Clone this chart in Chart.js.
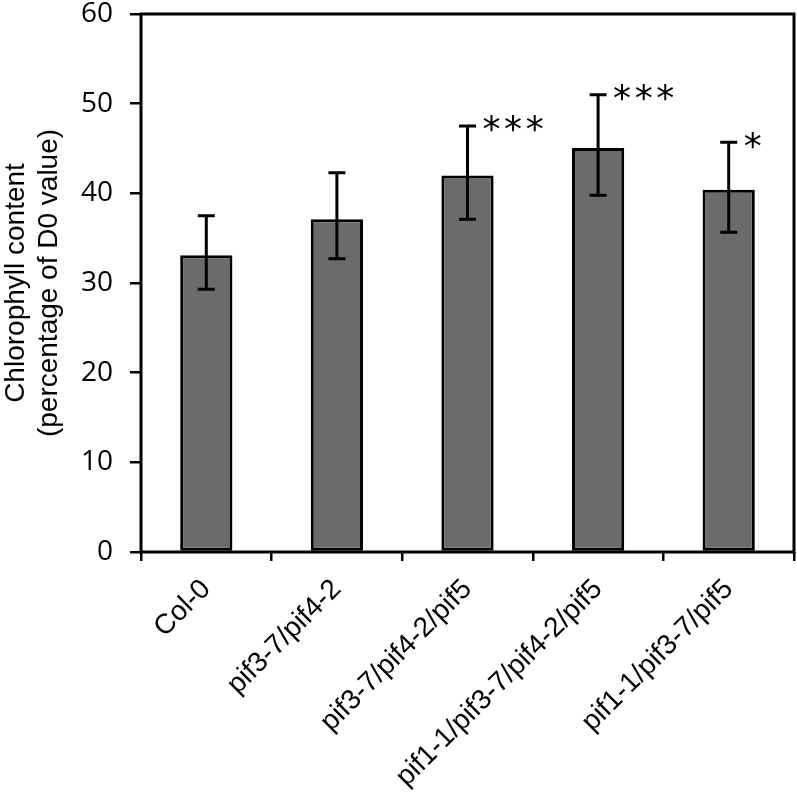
<!DOCTYPE html>
<html>
<head>
<meta charset="utf-8">
<script src="https://cdn.jsdelivr.net/npm/chart.js@4.4.0/dist/chart.umd.min.js"></script>
<style>
  html, body { margin: 0; padding: 0; background: #fff; }
  #wrap { width: 797px; height: 804px; }
</style>
</head>
<body>
<div id="wrap"><canvas id="chlChart"></canvas></div>
<script>
// values
var genotypes = ['Col-0', 'pif3-7/pif4-2', 'pif3-7/pif4-2/pif5', 'pif1-1/pif3-7/pif4-2/pif5', 'pif1-1/pif3-7/pif5'];
var chlValues = [33.1, 37.1, 42.0, 45.05, 40.4];
var errUp = [4.4, 5.2, 5.5, 5.95, 5.3];
var errDown = [3.8, 4.4, 4.9, 5.25, 4.75];
var sigMarks = ['', '', '***', '***', '*'];
var yMin = 0, yMax = 60, yStep = 10;

// error bars + significance stars, positions come from the scales
const errorBars = {
  id: 'errorBars',
  afterDatasetsDraw(chart) {
    var ctx = chart.ctx;
    var y = chart.scales.y;
    var meta = chart.getDatasetMeta(0);
    ctx.save();
    ctx.strokeStyle = '#000';
    ctx.lineWidth = 3;
    meta.data.forEach(function (bar, i) {
      var top = y.getPixelForValue(chlValues[i] + errUp[i]);
      var bot = y.getPixelForValue(chlValues[i] - errDown[i]);
      var cap = 8.5;
      ctx.beginPath();
      ctx.moveTo(bar.x, top); ctx.lineTo(bar.x, bot);
      ctx.moveTo(bar.x - cap, top); ctx.lineTo(bar.x + cap, top);
      ctx.moveTo(bar.x - cap, bot); ctx.lineTo(bar.x + cap, bot);
      ctx.stroke();
      if (sigMarks[i]) {
        ctx.fillStyle = '#000';
        ctx.font = '36px "DejaVu Sans"';
        ctx.textAlign = 'left';
        ctx.textBaseline = 'middle';
        var s = sigMarks[i].split('').join(String.fromCharCode(8202));
        ctx.fillText(s, bar.x + 15, top + 6);
      }
    });
    ctx.restore();
  }
};

// frame round the plot area
const plotFrame = {
  id: 'plotFrame',
  afterDraw(chart) {
    var a = chart.chartArea;
    var ctx = chart.ctx;
    ctx.save();
    ctx.strokeStyle = '#000';
    ctx.lineWidth = 3;
    ctx.strokeRect(a.left, a.top, a.right - a.left, a.bottom - a.top);
    ctx.restore();
  }
};

new Chart('chlChart', {
  type: 'bar',
  data: {
    labels: genotypes,
    datasets: [{
      data: chlValues,
      backgroundColor: '#6b6b6b',
      borderColor: '#000',
      borderWidth: 3,
      borderSkipped: false,
      barPercentage: 0.4,
      categoryPercentage: 1.0
    }]
  },
  options: {
    responsive: true,
    maintainAspectRatio: false,
    animation: false,
    layout: { padding: { top: 0, right: 3, left: 0, bottom: 0 } },
    plugins: {
      legend: { display: false },
      tooltip: { enabled: false }
    },
    scales: {
      x: {
        border: { display: false },
        grid: { display: true, drawOnChartArea: false, color: '#000', lineWidth: 2.5, tickLength: 9, offset: true },
        ticks: {
          color: '#000',
          minRotation: 45,
          maxRotation: 45,
          padding: 12,
          font: { family: '"Liberation Sans", Arial, sans-serif', size: 28 }
        },
        afterFit: function (s) { s.height = 252; s.paddingLeft = 0; s.paddingRight = 0; }
      },
      y: {
        min: yMin,
        max: yMax,
        border: { display: false },
        grid: { display: true, drawOnChartArea: false, color: '#000', lineWidth: 2.5, tickLength: 11 },
        ticks: {
          stepSize: yStep,
          color: '#000',
          padding: 17,
          font: { family: '"Open Sans", sans-serif', size: 28, lineHeight: 1 }
        },
        title: {
          display: true,
          text: ['Chlorophyll content', '(percentage of D0 value)'],
          color: '#000',
          padding: 0,
          font: { family: '"Liberation Sans", Arial, sans-serif', size: 28, lineHeight: 1.18 }
        },
        afterFit: function (s) { s.width = 141; s.paddingTop = 14; s.paddingBottom = 0; }
      }
    }
  },
  plugins: [errorBars, plotFrame]
});
</script>
</body>
</html>
